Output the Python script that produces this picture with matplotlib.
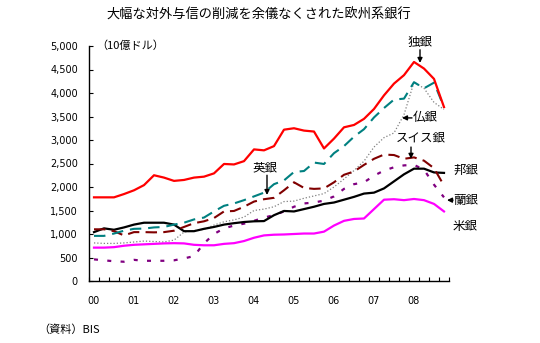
import numpy as np
import matplotlib
matplotlib.use("Agg")
from matplotlib import pyplot as plt
from matplotlib.ticker import FixedLocator

plt.rcParams['font.family'] = ['Noto Sans CJK JP', 'DejaVu Sans']

# quarterly, 2000Q1 .. 2008Q4 (10億ドル)
years = ['00', '01', '02', '03', '04', '05', '06', '07', '08']
dokugin = [1780, 1780, 1780, 1850, 1930, 2040, 2250, 2200, 2130, 2150, 2200, 2220,
           2290, 2490, 2480, 2550, 2800, 2780, 2870, 3220, 3250, 3200, 3180, 2820,
           3030, 3270, 3320, 3450, 3660, 3950, 4200, 4380, 4660, 4520, 4300, 3700]
futsugin = [960, 960, 1010, 1070, 1110, 1115, 1140, 1150, 1200, 1240, 1310, 1350,
            1480, 1600, 1650, 1720, 1800, 1880, 2060, 2140, 2320, 2340, 2520, 2490,
            2720, 2870, 3070, 3230, 3480, 3680, 3860, 3880, 4230, 4100, 4220, 3700]
swiss = [810, 800, 800, 810, 830, 850, 840, 830, 870, 1040, 1070, 1100,
         1190, 1260, 1300, 1360, 1500, 1530, 1580, 1690, 1700, 1760, 1810, 1860,
         2000, 2170, 2350, 2550, 2850, 3050, 3150, 3540, 4230, 4100, 3800, 3650]
eigin = [1100, 1100, 1060, 970, 1040, 1040, 1035, 1040, 1070, 1150, 1230, 1270,
         1340, 1480, 1490, 1580, 1690, 1740, 1770, 1930, 2100, 1980, 1960, 1970,
         2100, 2260, 2330, 2470, 2600, 2690, 2680, 2600, 2630, 2560, 2400, 2030]
hougin = [1040, 1120, 1090, 1140, 1200, 1240, 1240, 1240, 1200, 1060, 1060, 1110,
          1150, 1200, 1230, 1255, 1270, 1275, 1400, 1490, 1480, 1530, 1580, 1640,
          1670, 1730, 1790, 1860, 1880, 1970, 2120, 2270, 2390, 2390, 2310, 2300]
rangin = [460, 440, 420, 410, 450, 430, 430, 430, 440, 480, 530, 800,
          1000, 1120, 1180, 1220, 1280, 1350, 1400, 1480, 1580, 1650, 1670, 1710,
          1800, 1960, 2060, 2100, 2240, 2350, 2420, 2460, 2470, 2370, 2050, 1780]
beigin = [710, 710, 720, 750, 770, 780, 790, 800, 805, 800, 770, 760,
          760, 790, 805, 850, 920, 970, 985, 990, 1000, 1010, 1010, 1050,
          1180, 1280, 1320, 1330, 1530, 1730, 1740, 1720, 1745, 1720, 1640, 1480]

x = np.arange(len(dokugin))

fig = plt.figure(figsize=(5.4, 3.43), dpi=100)
ax = fig.add_axes([89/540, 1-281/343, 360/540, 235/343])

ax.plot(x, swiss, color='#808080', lw=0.9, dashes=(1, 1.6))
ax.plot(x, rangin, color='#800080', lw=1.6, dashes=(1.8, 4.2))
ax.plot(x, beigin, color='#ff00ff', lw=1.6)
ax.plot(x, hougin, color='black', lw=1.6)
ax.plot(x, eigin, color='#800000', lw=1.5, dashes=(5.5, 3.0))
ax.plot(x, futsugin, color='#008080', lw=1.5, dashes=(5.5, 3.3))
ax.plot(x, dokugin, color='#ff0000', lw=1.6)

ax.set_xlim(-0.5, 35.5)
ax.set_ylim(0, 5000)
ax.set_yticks(np.arange(0, 5001, 500))
ax.set_yticklabels(['{:,}'.format(v) for v in range(0, 5001, 500)], fontsize=7,
                   family='DejaVu Sans')
ax.set_xticks(np.arange(len(years)) * 4)
ax.set_xticklabels(years, fontsize=7, family='DejaVu Sans')
ax.xaxis.set_minor_locator(FixedLocator(np.arange(-0.5, 36, 1)))
ax.tick_params(axis='x', which='major', length=0, pad=11)
ax.tick_params(axis='x', which='minor', direction='in', length=3, width=0.8)
ax.tick_params(axis='y', direction='in', length=3, width=0.8, pad=8)
for s in ['top', 'right']:
    ax.spines[s].set_visible(False)
for s in ['left', 'bottom']:
    ax.spines[s].set_linewidth(1.0)

fig.text(259/540, 1-15/343, '大幅な対外与信の削減を余儀なくされた欧州系銀行',
         ha='center', va='center', fontsize=9.5)
fig.text(96/540, 1-46/343, '（10億ドル）', ha='left', va='center', fontsize=8)
fig.text(38/540, 1-330/343, '（資料）BIS', ha='left', va='center', fontsize=8)

arr = dict(arrowstyle='-|>', color='black', lw=1, mutation_scale=7, shrinkA=0, shrinkB=0)
lab = dict(fontsize=9, va='center', clip_on=False)

ax.text(32.6, 5080, '独銀', ha='center', **lab)
ax.annotate('', xy=(32.6, 4640), xytext=(32.6, 4920), arrowprops=arr, annotation_clip=False)
ax.text(31.9, 3470, '仏銀', ha='left', **lab)
ax.annotate('', xy=(30.8, 3470), xytext=(31.8, 3470), arrowprops=arr)
ax.text(32.7, 3040, 'スイス銀', ha='center', **lab)
ax.annotate('', xy=(31.7, 2600), xytext=(31.7, 2850), arrowprops=arr)
ax.text(17.1, 2410, '英銀', ha='center', **lab)
ax.annotate('', xy=(17.3, 1830), xytext=(17.3, 2250), arrowprops=arr)
ax.text(35.9, 2360, '邦銀', ha='left', **lab)
ax.text(35.9, 1720, '蘭銀', ha='left', **lab)
ax.annotate('', xy=(35.3, 1720), xytext=(35.9, 1720), arrowprops=arr, annotation_clip=False)
ax.text(35.9, 1150, '米銀', ha='left', **lab)

fig.savefig('out.png', dpi=100)
